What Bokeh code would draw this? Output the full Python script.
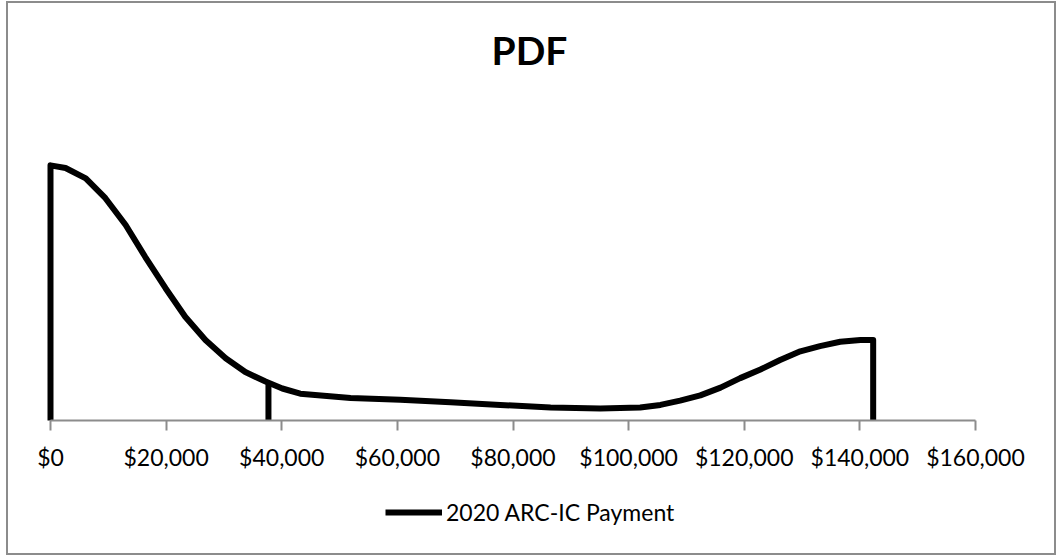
from bokeh.plotting import figure
from bokeh.models import (Range1d, NumeralTickFormatter, FixedTicker, Legend,
                          LegendItem, ColumnDataSource, Label)
from bokeh.embed import file_html
from bokeh.resources import INLINE

# Probability density of the 2020 ARC-IC payment (density in units of 1e-6 per $)
payment_usd = [0, 2600, 6100, 9500, 13000, 16400, 19900, 23300, 26800, 30300,
               33700, 37200, 40100, 43200, 51900, 60500, 69200, 77800, 86500,
               95100, 102000, 105500, 108900, 112400, 115900, 119300, 122800,
               126200, 129700, 133100, 136600, 140100, 142300]
density_e6 = [29.5, 29.2, 28.0, 25.7, 22.6, 18.9, 15.3, 12.0, 9.3, 7.2,
              5.6, 4.5, 3.7, 3.1, 2.6, 2.4, 2.1, 1.8, 1.5,
              1.4, 1.5, 1.8, 2.3, 2.9, 3.8, 4.9, 5.9,
              7.0, 8.0, 8.6, 9.1, 9.3, 9.3]

# Marker drawn at the guarantee level
marker_usd = 37700
marker_density_e6 = 4.3

x_ticks = [0, 20000, 40000, 60000, 80000, 100000, 120000, 140000, 160000]
axis_span = (0, 160000)

FONT = "Lato"
GRAY = "#8c8c8c"

# Canvas geometry (inside the 2px chart border); the plot frame fills it
CANVAS_W, CANVAS_H = 1046, 550
AXIS_LEFT_PX, AXIS_PX = 42, 925
AXIS_Y_PX = 417          # canvas row of the zero line
DENS_PER_PX = 37.0 / 320

usd_per_px = (axis_span[1] - axis_span[0]) / AXIS_PX
x_start = axis_span[0] - AXIS_LEFT_PX * usd_per_px
x_end = x_start + CANVAS_W * usd_per_px
y_start = -(CANVAS_H - AXIS_Y_PX) * DENS_PER_PX
y_end = AXIS_Y_PX * DENS_PER_PX

p = figure(frame_width=CANVAS_W, frame_height=CANVAS_H,
           output_backend="svg", toolbar_location=None,
           x_range=Range1d(x_start, x_end), y_range=Range1d(y_start, y_end),
           min_border=0,
           background_fill_color="white", border_fill_color="white",
           styles={"border": f"2px solid {GRAY}", "margin-left": "6px",
                   "margin-top": "1px"})
p.outline_line_color = None
p.grid.visible = False
p.yaxis.visible = False

# Closed outline: rise at $0, follow the density, drop at the maximum payment
xs = [payment_usd[0]] + payment_usd + [payment_usd[-1]]
ys = [0] + density_e6 + [0]
src = ColumnDataSource(dict(x=xs, y=ys))
curve = p.line("x", "y", source=src, line_color="black", line_width=6,
               line_join="round", line_cap="butt")

p.segment(x0=[marker_usd], y0=[0], x1=[marker_usd], y1=[marker_density_e6],
          line_color="black", line_width=6)

ax = p.xaxis[0]
ax.fixed_location = 0
ax.bounds = axis_span
ax.ticker = FixedTicker(ticks=x_ticks)
ax.formatter = NumeralTickFormatter(format="$0,0")
ax.axis_line_color = GRAY
ax.axis_line_width = 2
ax.major_tick_line_color = GRAY
ax.major_tick_line_width = 2
ax.major_tick_out = 10
ax.major_tick_in = 0
ax.minor_tick_line_color = None
ax.major_label_text_font = FONT
ax.major_label_text_font_size = "23px"
ax.major_label_text_color = "black"
ax.major_label_standoff = 12

# Chart title near the top of the canvas
p.add_layout(Label(x=521, y=CANVAS_H - 46, x_units="screen", y_units="screen",
                   text="PDF", text_font=FONT, text_font_size="39px",
                   text_font_style="bold", text_color="black",
                   text_align="center", text_baseline="alphabetic"))

legend = Legend(items=[LegendItem(label="2020 ARC-IC Payment", renderers=[curve])],
                location=(377, 27), orientation="horizontal",
                label_text_font=FONT, label_text_font_size="23px",
                label_text_color="black", glyph_width=57, glyph_height=20,
                label_standoff=4, border_line_color=None,
                background_fill_alpha=0, margin=0, padding=0)
p.add_layout(legend)

open("out.html", "w").write(file_html(p, INLINE))
